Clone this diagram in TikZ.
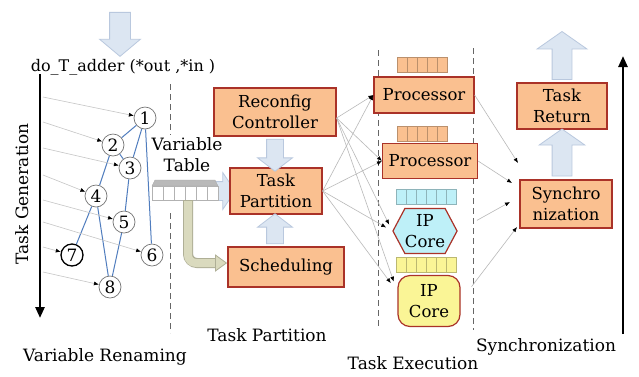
\documentclass[tikz,border=0pt]{standalone}
\usepackage{fontspec}
\setmainfont{DejaVu Serif}
\usetikzlibrary{shapes.arrows, shapes.symbols, arrows.meta, calc}
\definecolor{boxfill}{RGB}{250,192,144}
\definecolor{boxline}{RGB}{170,50,40}
\definecolor{cyanfill}{RGB}{190,240,248}
\definecolor{yelfill}{RGB}{250,245,150}
\definecolor{arrowfill}{RGB}{220,230,242}
\definecolor{arrowline}{RGB}{185,200,222}
\definecolor{olivefill}{RGB}{218,218,190}
\definecolor{oliveline}{RGB}{175,175,150}
\definecolor{edgeblue}{RGB}{80,125,190}

\begin{document}
\begin{tikzpicture}[x=1pt, y=-1pt,
        box/.style={rectangle, draw=boxline, fill=boxfill, line width=1.2pt, align=center, inner sep=0pt, font=\fontsize{16.5}{20.5}\selectfont},
        num/.style={circle, draw=gray!90!black, line width=0.7pt, minimum size=22pt, inner sep=0pt, font=\fontsize{17}{17}\selectfont},
        dep/.style={draw=edgeblue, line width=1pt},
        renam/.style={draw=gray!45, line width=0.6pt, -{Latex[length=5pt,width=4pt,color=black]}},
        conn/.style={draw=gray!55, line width=0.6pt, -{Latex[length=5pt,width=4pt,color=black]}},
        fat/.style={single arrow, draw=arrowline, fill=arrowfill, line width=0.8pt, inner xsep=0pt, inner ysep=#1, minimum width=0pt},
        divider/.style={draw=gray!80!black, dash pattern=on 6pt off 4pt, line width=0.8pt},
        lbl/.style={font=\fontsize{17}{21}\selectfont},
        heavy/.style={line width=2.5pt, -{Triangle[length=11pt,width=9pt]}}
    ]
        \fill[white] (0,0) rectangle (639,376);
        \useasboundingbox (0,0) rectangle (639,376);

        \node[fat=10pt, rotate=-90, minimum height=44, single arrow head extend=10, single arrow tip angle=100] (inarr) at (120,30) {};
        \node[lbl, font=\fontsize{16}{16}\selectfont] (fn) at (123,67) {do\_T\_adder (*out ,*in )};
        \coordinate (gtop) at (40,74);
        \coordinate (gbot) at (40,318);
        \draw[heavy] (gtop) -- (gbot);
        \node[lbl, rotate=90] (tg) at (22,194) {Task Generation};

        \node[num] (c1) at (145,118) {1};
        \node[num] (c2) at (113,145) {2};
        \node[num] (c3) at (130,168) {3};
        \node[num] (c4) at (96,196) {4};
        \node[num] (c5) at (124,222) {5};
        \node[num] (c6) at (152,255) {6};
        \node[num, draw=black, line width=1.3pt] (c7) at (72,255) {7};
        \node[num] (c8) at (110,287) {8};
        \draw[dep] (c1) -- (c2) (c1) -- (c3) (c1) -- (c6) (c2) -- (c3) (c2) -- (c4)
            (c4) -- (c7) (c4) -- (c8) (c3) -- (c5) (c5) -- (c8);
        \foreach \n/\y in {1/97,2/122,3/148,4/175,5/200,6/222,7/247,8/272} {
            \coordinate (r\n) at (43,\y);
            \draw[renam] (r\n) -- (c\n);
        }

        \draw[divider] (170,84) -- (170,135);
        \draw[divider] (170,213) -- (170,333);
        \draw[divider] (378,50) -- (378,328);
        \draw[divider] (473,48) -- (473,330);

        \node[lbl, align=center] (vtl) at (187,155) {Variable\\Table};
        \node[fat=9pt, minimum height=22, single arrow head extend=9, single arrow tip angle=112] (tabarr) at (221,191) {};
        \filldraw[fill=gray!55, draw=gray!70] (152,186) -- (155,180) -- (215,180) -- (218,186) -- cycle;
        \foreach \i in {0,...,5}
            \draw[draw=gray!60, fill=white] (152+\i*11,186) rectangle ++(11,14);
        \coordinate (vtout) at (188,200);

        \node[box, minimum width=122, minimum height=48] (rc) at (275,112) {Reconfig\\Controller};
        \node[box, minimum width=92, minimum height=46] (tp) at (276,191) {Task\\Partition};
        \node[box, minimum width=116, minimum height=40] (sc) at (286,267) {Scheduling};
        \node[fat=8pt, rotate=-90, minimum height=32, single arrow head extend=9, single arrow tip angle=105] (a1) at (275,152) {};
        \node[fat=8pt, rotate=90, minimum height=30, single arrow head extend=9, single arrow tip angle=105] (a2) at (275,232) {};

        \coordinate (olend) at ([yshift=4pt]sc.west);
        \draw[line width=10pt, oliveline, rounded corners=9pt] (vtout) |- ($(olend)+(-11,0)$);
        \draw[line width=8pt, olivefill, rounded corners=8pt] ($(vtout)+(0,1)$) |- ($(olend)+(-10,0)$);
        \filldraw[fill=olivefill, draw=oliveline, line width=0.8pt] ($(olend)+(-12,-8)$) -- ($(olend)+(-1,0)$) -- ($(olend)+(-12,8)$) -- cycle;

        \foreach \qx/\qy/\n/\c in {397/57/5/boxfill, 397/126/5/boxfill, 396/189/6/cyanfill, 396/257/6/yelfill}
            \foreach \i in {1,...,\n}
                \draw[fill=\c, draw=\c!75!black, line width=0.5pt] (\qx+\i*10-10,\qy) rectangle ++(10,15);

        \node[box, minimum width=100, minimum height=36] (p1) at (424,95) {Processor};
        \node[box, minimum width=95, minimum height=35] (p2) at (430,161) {Processor};
        \node[box, signal, signal to=east and west, signal pointer angle=124, fill=cyanfill, minimum width=63, minimum height=45] (ip1) at (425,231) {IP\\Core};
        \node[box, rounded corners=12pt, fill=yelfill, minimum width=62, minimum height=51] (ip2) at (429,301) {IP\\Core};

        \foreach \t in {p1, p2} {
            \draw[conn] ([yshift=-6pt]rc.east) -- (\t.west);
            \draw[conn] (tp.east) -- (\t.west);
        }
        \draw[conn, shorten >=7pt] ([yshift=-6pt]rc.east) -- (ip1.west);
        \draw[conn, shorten >=7pt] (tp.east) -- (ip1.west);
        \draw[conn, shorten >=11pt] ([yshift=-6pt]rc.east) -- ([yshift=9pt]ip2.west);
        \draw[conn, shorten >=11pt] (tp.east) -- ([yshift=9pt]ip2.west);

        \node[box, minimum width=90, minimum height=46] (tr) at (562,106) {Task\\Return};
        \node[box, minimum width=92, minimum height=48] (sy) at (566,204) {Synchro\\nization};
        \node[fat=9.5pt, rotate=90, minimum height=47, single arrow head extend=13, single arrow tip angle=110] (a3) at (562,156) {};
        \node[fat=9.5pt, rotate=90, minimum height=48, single arrow head extend=15, single arrow tip angle=110] (a4) at (562,59) {};

        \coordinate (sin1) at (518,163);
        \coordinate (sin2) at (512,183);
        \coordinate (sin3) at (510,202);
        \coordinate (sin4) at (517,227);
        \draw[conn] (p1.east) -- (sin1);
        \draw[conn] (p2.east) -- (sin2);
        \draw[conn, shorten <=22pt] (ip1.east) -- (sin3);
        \draw[conn, shorten <=18pt] (ip2.east) -- (sin4);

        \coordinate (ybot) at (623,334);
        \coordinate (ytop) at (623,56);
        \draw[heavy] (ybot) -- (ytop);

        \node[lbl] (vr) at (105,357) {Variable Renaming};
        \node[lbl] (tpl) at (267,335) {Task Partition};
        \node[lbl] (tel) at (413,363) {Task Execution};
        \node[lbl] (syl) at (546,347) {Synchronization};
    \end{tikzpicture}
\end{document}
